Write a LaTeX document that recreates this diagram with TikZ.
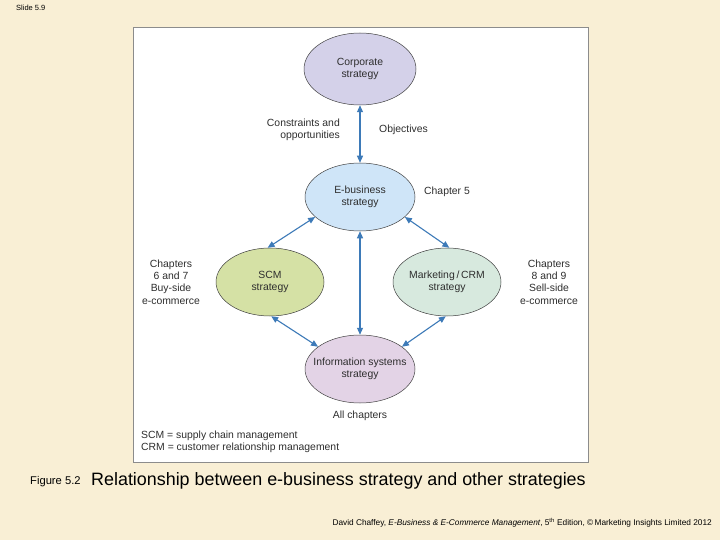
\documentclass[tikz,border=0pt]{standalone}
\usepackage{fontspec}
\setmainfont{Liberation Sans}
\usetikzlibrary{shapes.geometric,arrows.meta}
\definecolor{bgcream}{HTML}{F9EFD5}
\definecolor{arrblue}{HTML}{3D7AB8}
\definecolor{corpfill}{HTML}{D4D1E9}
\definecolor{ebfill}{HTML}{CFE5F8}
\definecolor{scmfill}{HTML}{D5E1A5}
\definecolor{mktfill}{HTML}{D7E9DE}
\definecolor{isfill}{HTML}{E3D3E6}
\definecolor{txtgray}{HTML}{2E2E2E}
\newcommand{\zw}[1]{\makebox[0pt][c]{#1}}
\begin{document}
\begin{tikzpicture}[x=1pt,y=-1pt,
  oval/.style={ellipse,draw=black!75,line width=0.5pt,inner sep=0pt,
    minimum width=110pt,minimum height=68pt,align=center,
    font=\fontsize{10.4}{12.5}\selectfont,text=txtgray},
  lbl/.style={font=\fontsize{10.4}{12.2}\selectfont,text=txtgray,inner sep=0pt},
  arr/.style={draw=arrblue,line width=1.1pt,{Triangle[length=7pt,width=6pt]}-{Triangle[length=7pt,width=6pt]}}]
\fill[bgcream] (0,0) rectangle (720,540);
\useasboundingbox (0,0) rectangle (720,540);
\node[anchor=west,font=\fontsize{7.5}{8}\selectfont,inner sep=0pt] (slide) at (16,8) {Slide 5.9};
\draw[fill=white,draw=black!45,line width=0.6pt] (133,27) rectangle (588,462);
% ellipses
\node[oval,fill=corpfill,minimum width=112pt,minimum height=72pt] (corp) at (360,69) {\zw{Corporate}\\\zw{strategy}};
\node[oval,fill=ebfill] (eb) at (360,197) {\zw{E-business}\\\zw{strategy}};
\node[oval,fill=scmfill,minimum width=108pt] (scm) at (270,282) {\zw{SCM}\\\zw{strategy}};
\node[oval,fill=mktfill,minimum width=108pt] (mkt) at (447,282) {\zw{Marketing\,/\,CRM}\\\zw{strategy}};
\node[oval,fill=isfill] (is) at (360,369) {\zw{Information systems}\\\zw{strategy}};
% arrows
\draw[arr] (corp.south) -- (eb.north);
\draw[arr] (eb.204) -- (scm.94);
\draw[arr] (eb.336) -- (mkt.86);
\draw[arr] (scm.272) -- (is.152);
\draw[arr] (mkt.268) -- (is.28);
\draw[arr] (is.north) -- (eb.south);
% labels
\node[lbl,anchor=east,align=right] (cons) at (340,130) {Constraints and\\opportunities};
\node[lbl,anchor=west] (obj) at (379,130) {Objectives};
\node[lbl,anchor=west] (ch5) at (424,192) {Chapter 5};
\node[lbl,align=center] (ch67) at (171,282) {Chapters\\6 and 7\\Buy-side\\e-commerce};
\node[lbl,align=center] (ch89) at (549,282) {Chapters\\8 and 9\\Sell-side\\e-commerce};
\node[lbl] (allch) at (360,416) {All chapters};
\node[lbl,anchor=west,align=left] (abbr) at (141,442) {SCM = supply chain management\\CRM = customer relationship management};
% caption
\node[anchor=base west,inner sep=0pt,font=\fontsize{11.2}{12}\selectfont] (fig) at (30,484) {Figure 5.2};
\node[anchor=base west,inner sep=0pt,font=\fontsize{17.9}{20}\selectfont] (cap) at (91,485) {Relationship between e-business strategy and other strategies};
\node[anchor=base east,inner sep=0pt,font=\fontsize{8.3}{9}\selectfont] (foot) at (712,525) {David Chaffey, \textit{E-Business \& E-Commerce Management}, 5\textsuperscript{th} Edition, \textcopyright\,Marketing Insights Limited 2012};
\end{tikzpicture}
\end{document}
